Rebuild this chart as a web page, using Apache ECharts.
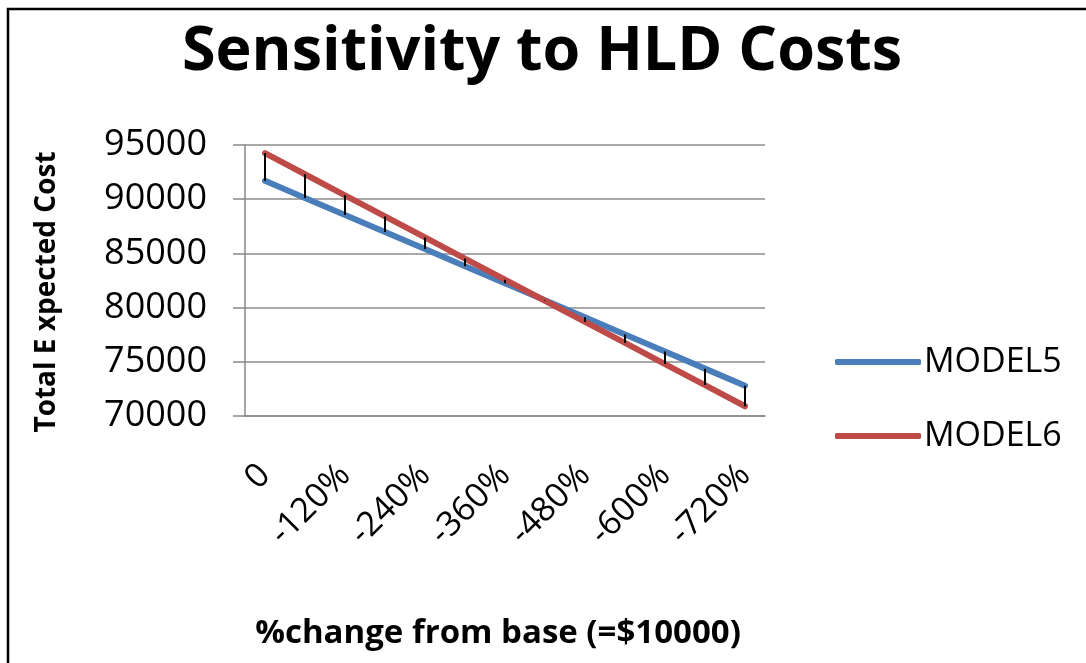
<!DOCTYPE html>
<html>
<head>
<meta charset="utf-8">
<title>Sensitivity to HLD Costs</title>
<script src="https://cdn.jsdelivr.net/npm/echarts@6/dist/echarts.min.js"></script>
<style>
  html, body { margin: 0; padding: 0; background: #fff; }
  #chart { width: 1086px; height: 663px; }
</style>
</head>
<body>
<div id="chart"></div>
<script>
// Percent change of HLD cost from the base value ($10000)
const categories = ['0', '-60%', '-120%', '-180%', '-240%', '-300%', '-360%',
                    '-420%', '-480%', '-540%', '-600%', '-660%', '-720%'];
// Total expected cost per model
const model5 = [91700, 90120, 88550, 86970, 85400, 83820, 82250,
                80670, 79100, 77520, 75950, 74370, 72800];
const model6 = [94250, 92300, 90360, 88410, 86470, 84520, 82580,
                80630, 78680, 76740, 74790, 72850, 70900];
const yTicks = { min: 70000, max: 95000, interval: 5000 };

// High-low line data: [category index, low, high]
const hiLow = categories.map((c, i) => [i, Math.min(model5[i], model6[i]), Math.max(model5[i], model6[i])]);

const FONT = '"Open Sans", "DejaVu Sans", sans-serif';
const chart = echarts.init(document.getElementById('chart'), null, { renderer: 'canvas' });

chart.setOption({
  backgroundColor: '#ffffff',
  animation: false,
  title: {
    text: 'Sensitivity to HLD Costs',
    left: 537,
    top: 17,
    textAlign: 'center',
    textStyle: { fontFamily: FONT, fontWeight: 'bold', fontSize: 61, color: '#000' }
  },
  graphic: [
    {
      type: 'rect',
      shape: { x: 8, y: 9, width: 1100, height: 700 },
      style: { fill: 'none', stroke: '#000', lineWidth: 2.5 },
      silent: true
    },
    {
      // vertical axis title
      type: 'text',
      x: 47,
      y: 292,
      rotation: Math.PI / 2,
      style: {
        text: 'Total E xpected Cost',
        fontFamily: FONT,
        fontWeight: 'bold',
        fontSize: 28,
        fill: '#000',
        align: 'center',
        verticalAlign: 'middle'
      },
      silent: true
    }
  ],
  legend: {
    orient: 'vertical',
    left: 830,
    top: 340,
    itemGap: 40,
    itemWidth: 86,
    itemHeight: 6,
    icon: 'roundRect',
    textStyle: { fontFamily: FONT, fontSize: 34, color: '#000', padding: [0, 0, 0, -2] },
    data: ['MODEL5', 'MODEL6']
  },
  grid: { left: 245, top: 145, right: 321, bottom: 247, containLabel: false },
  xAxis: {
    type: 'category',
    data: categories,
    boundaryGap: true,
    name: '%change from base (=$10000)',
    nameLocation: 'middle',
    nameGap: 201,
    nameTextStyle: { fontFamily: FONT, fontWeight: 'bold', fontSize: 33, color: '#000', padding: [0, 14, 0, 0] },
    axisLine: { show: true, lineStyle: { color: '#888', width: 1.5 } },
    axisTick: { show: false },
    axisLabel: {
      interval: 1,
      rotate: 45,
      margin: 54,
      fontFamily: FONT,
      fontSize: 34,
      color: '#000'
    }
  },
  yAxis: {
    type: 'value',
    min: yTicks.min,
    max: yTicks.max,
    interval: yTicks.interval,
    axisLine: { show: true, lineStyle: { color: '#888', width: 1.5 } },
    axisTick: { show: true, length: 12, lineStyle: { color: '#888', width: 1.5 } },
    splitLine: { show: true, lineStyle: { color: '#8c8c8c', width: 1.5 } },
    axisLabel: {
      margin: 38,
      fontFamily: FONT,
      fontSize: 36,
      color: '#000',
      formatter: v => String(v)
    }
  },
  series: [
    {
      name: 'MODEL5',
      type: 'line',
      data: model5,
      color: '#4A7EBB',
      symbol: 'none',
      lineStyle: { width: 6, color: '#4A7EBB', cap: 'round' },
      z: 2
    },
    {
      name: 'MODEL6',
      type: 'line',
      data: model6,
      color: '#BE4B48',
      symbol: 'none',
      lineStyle: { width: 6, color: '#BE4B48', cap: 'round' },
      z: 3
    },
    {
      name: 'HighLow',
      type: 'custom',
      data: hiLow,
      z: 5,
      renderItem: function (params, api) {
        const lo = api.coord([api.value(0), api.value(1)]);
        const hi = api.coord([api.value(0), api.value(2)]);
        return {
          type: 'line',
          shape: { x1: lo[0], y1: lo[1], x2: hi[0], y2: hi[1] },
          style: { stroke: '#000', lineWidth: 2 }
        };
      }
    }
  ]
});
</script>
</body>
</html>
